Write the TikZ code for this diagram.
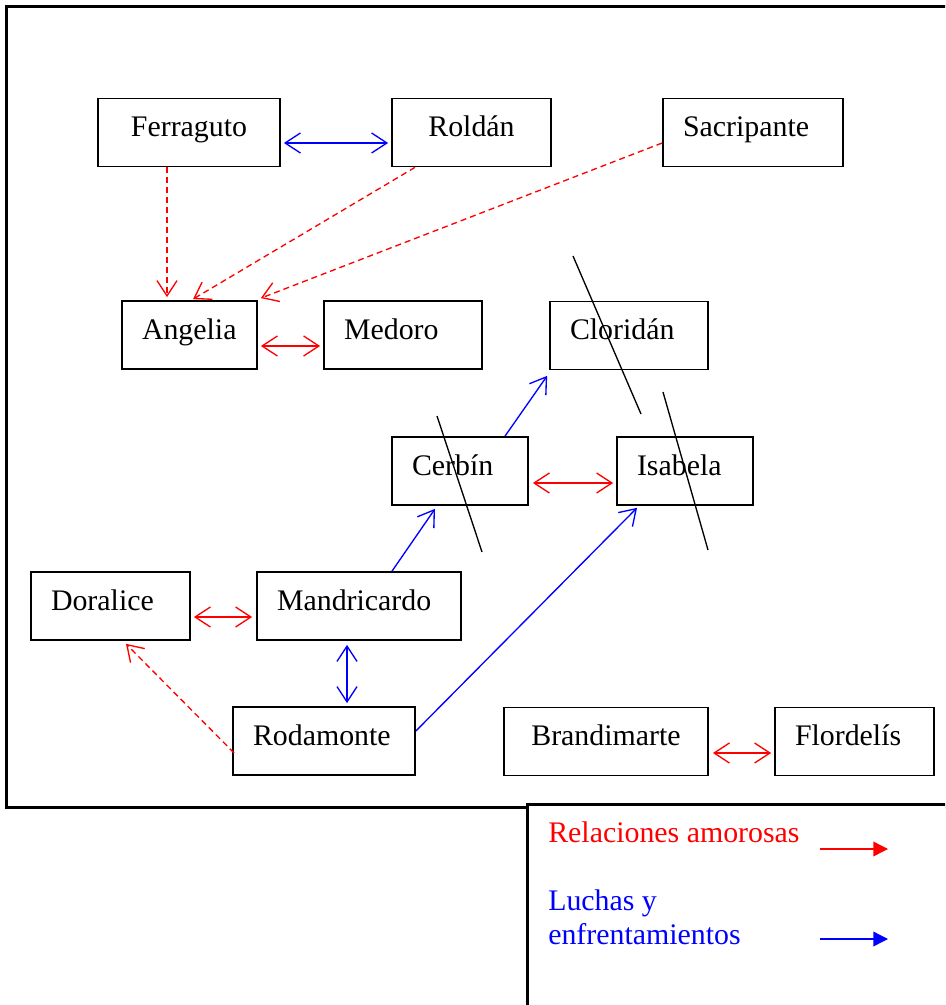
\documentclass[tikz,border=0pt]{standalone}
\usepackage{fontspec}
\setmainfont{Liberation Serif}
\usetikzlibrary{arrows.meta}
\definecolor{amorRed}{RGB}{255,0,0}
\definecolor{luchaBlue}{RGB}{0,0,255}

\begin{document}
\begin{tikzpicture}[x=0.75pt,y=-0.75pt,
  font=\fontsize{22.4}{25.5}\selectfont,
  caja/.style={draw, line width=1.3pt, inner xsep=15pt, inner ysep=0pt,
    text height=28.5pt, text depth=22.5pt, align=left, text width=#1},
  centrada/.style={align=center},
  amor/.style={amorRed, line width=1pt, {Straight Barb[length=11.5pt,width=15pt]}-{Straight Barb[length=11.5pt,width=15pt]}},
  lucha/.style={luchaBlue, line width=1pt, {Straight Barb[length=11.5pt,width=15pt]}-{Straight Barb[length=11.5pt,width=15pt]}},
  celos/.style={amorRed, line width=1pt, dash pattern=on 4.5pt off 3pt, -{Straight Barb[length=11.5pt,width=15pt]}},
  ataque/.style={luchaBlue, line width=1pt, -{Straight Barb[length=11.5pt,width=15pt]}},
  tachado/.style={black, line width=1pt}]
  \clip (0,0) rectangle (945,1005);

  % Marcos
  \draw[line width=2.25pt] (960,807) -- (6,807) -- (6,7) -- (960,7);
  \draw[line width=2.25pt, fill=white] (527,1020) -- (527,804) -- (960,804);

  % Personajes
  \node[caja=106.5pt, centrada] (ferraguto) at (189,132.5) {Ferraguto};
  \node[caja=89.25pt, centrada] (roldan) at (471.5,132.5) {Roldán};
  \node[caja=105pt] (sacripante) at (753,132.5) {Sacripante};
  \node[caja=71.25pt] (angelia) at (189.5,335) {Angelia};
  \node[caja=88.5pt] (medoro) at (403,335) {Medoro};
  \node[caja=88.5pt] (cloridan) at (629,335.5) {Cloridán};
  \node[caja=72pt] (cerbin) at (460,471) {Cerbín};
  \node[caja=72pt] (isabela) at (685,471) {Isabela};
  \node[caja=89.25pt] (doralice) at (110.5,606) {Doralice};
  \node[caja=123pt] (mandricardo) at (359,606) {Mandricardo};
  \node[caja=106.5pt] (rodamonte) at (324,741) {Rodamonte};
  \node[caja=123pt, centrada] (brandimarte) at (606,741.5) {Brandimarte};
  \node[caja=89.25pt] (flordelis) at (854.5,741.5) {Flordelís};

  % Relaciones amorosas
  \draw[celos] ([shift={(-22,0)}]ferraguto.south) -- ([shift={(-22.5,-3)}]angelia.north);
  \draw[celos] ([shift={(-56.5,0)}]roldan.south) -- ([shift={(3.5,-1)}]angelia.north);
  \draw[celos] ([shift={(0,10.5)}]sacripante.west) -- ([shift={(3,-2)}]angelia.north east);
  \draw[celos] ([shift={(2,12)}]rodamonte.west) -- ([shift={(15.5,3)}]doralice.south);
  \draw[amor] ([shift={(3,11)}]angelia.east) -- ([shift={(-3,11)}]medoro.west);
  \draw[amor] ([shift={(4,12)}]cerbin.east) -- ([shift={(-3,12)}]isabela.west);
  \draw[amor] ([shift={(3,11)}]doralice.east) -- ([shift={(-4,11)}]mandricardo.west);
  \draw[amor] ([shift={(4,11.5)}]brandimarte.east) -- ([shift={(-3,11.5)}]flordelis.west);

  % Luchas
  \draw[lucha] ([shift={(3,10.5)}]ferraguto.east) -- ([shift={(-3,10.5)}]roldan.west);
  \draw[lucha] ([shift={(-12,4)}]mandricardo.south) -- ([shift={(23,-3)}]rodamonte.north);
  \draw[ataque] ([shift={(45,0)}]cerbin.north) -- ([shift={(-2,5.5)}]cloridan.south west);
  \draw[ataque] ([shift={(33,0)}]mandricardo.north) -- ([shift={(-25,3)}]cerbin.south);
  \draw[ataque] ([shift={(0,-10)}]rodamonte.east) -- ([shift={(-48,2)}]isabela.south);

  % Muertos
  \draw[tachado] ([shift={(-56,-79.5)}]cloridan.center) -- ([shift={(12,78.5)}]cloridan.center);
  \draw[tachado] ([shift={(-23,-55)}]cerbin.center) -- ([shift={(22,81)}]cerbin.center);
  \draw[tachado] ([shift={(-22,-79)}]isabela.center) -- ([shift={(23,79)}]isabela.center);

  % Leyenda
  \node[anchor=base west, inner sep=0pt, text=amorRed] (leyAmor) at (548,842) {Relaciones amorosas};
  \node[anchor=base west, inner sep=0pt, text=luchaBlue, align=left] (leyLucha) at (548,944) {Luchas y\\enfrentamientos};
  \coordinate (amorIni) at (820,849);
  \coordinate (amorFin) at (888,849);
  \coordinate (luchaIni) at (820,939);
  \coordinate (luchaFin) at (888,939);
  \draw[amorRed, line width=1pt, -{Triangle[length=11pt,width=11pt]}] (amorIni) -- (amorFin);
  \draw[luchaBlue, line width=1pt, -{Triangle[length=11pt,width=11pt]}] (luchaIni) -- (luchaFin);
\end{tikzpicture}
\end{document}
